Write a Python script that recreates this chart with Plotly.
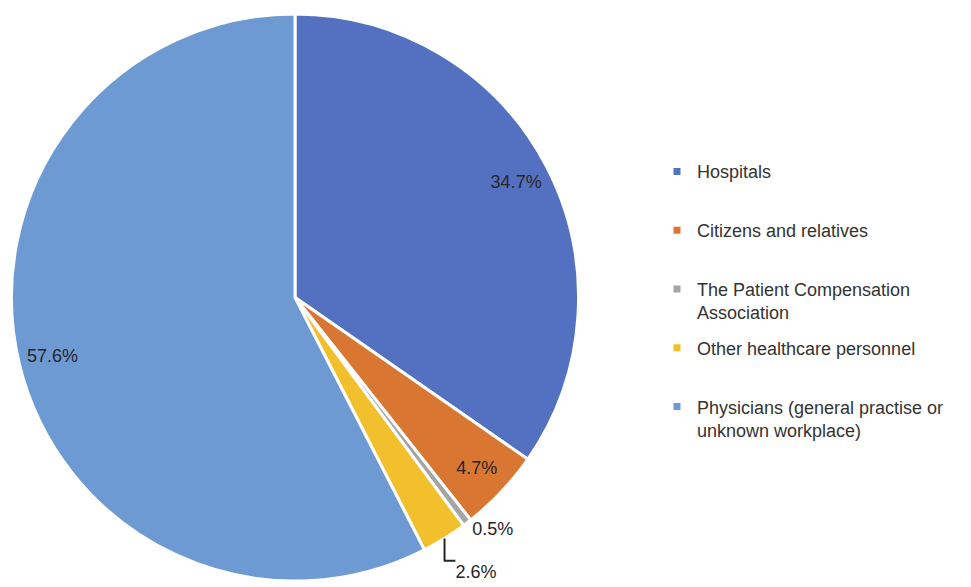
import plotly.graph_objects as go

# ---- data ----
categories = [
    "Hospitals",
    "Citizens and relatives",
    "The Patient Compensation Association",
    "Other healthcare personnel",
    "Physicians (general practise or unknown workplace)",
]
legend_labels = [
    "Hospitals",
    "Citizens and relatives",
    "The Patient Compensation<br>Association",
    "Other healthcare personnel",
    "Physicians (general practise or<br>unknown workplace)",
]
shares = [34.7, 4.7, 0.5, 2.6, 57.6]
colors = ["#5470C0", "#D97732", "#A5A5A5", "#F2C02D", "#6E9AD4"]
label_positions = ["inside", "inside", "outside", "outside", "inside"]
label_templates = ["%{value:.1f}%", "%{value:.1f}%", "%{value:.1f}%",
                   "&nbsp;<br>%{value:.1f}%", "%{value:.1f}%"]

W, H = 971, 587
FONT = "Liberation Sans, Arial, sans-serif"
TEXT_COLOR = "#262626"

dom_x = [10 / W, 580 / W]
dom_y = [1 - 584 / H, 1 - 14 / H]

fig = go.Figure()

# solid pie (slices + white separators)
fig.add_trace(go.Pie(
    labels=categories, values=shares, sort=False, direction="clockwise",
    rotation=0, marker=dict(colors=colors, line=dict(color="white", width=3)),
    textinfo="none", hoverinfo="label+value", showlegend=False,
    domain=dict(x=dom_x, y=dom_y),
))

# transparent ring carrying the data labels near the rim
fig.add_trace(go.Pie(
    labels=categories, values=shares, sort=False, direction="clockwise",
    rotation=0, hole=0.76,
    marker=dict(colors=["rgba(0,0,0,0)"] * len(shares), line=dict(width=0)),
    texttemplate=label_templates, textposition=label_positions,
    insidetextorientation="horizontal",
    textfont=dict(family=FONT, size=18, color=TEXT_COLOR),
    insidetextfont=dict(family=FONT, size=18, color=TEXT_COLOR),
    outsidetextfont=dict(family=FONT, size=18, color=TEXT_COLOR),
    hoverinfo="skip", showlegend=False,
    domain=dict(x=dom_x, y=dom_y),
))

# legend entries
for lab, col in zip(legend_labels, colors):
    name = lab if "<br>" in lab else lab + "<br> "
    fig.add_trace(go.Scatter(
        x=[None], y=[None], mode="markers", name=name, legendgroup=lab,
        marker=dict(symbol="square", size=7, color=col),
        hoverinfo="skip",
    ))

fig.update_layout(
    width=W, height=H,
    margin=dict(l=0, r=0, t=0, b=0),
    paper_bgcolor="white", plot_bgcolor="white",
    xaxis=dict(visible=False), yaxis=dict(visible=False),
    font=dict(family=FONT, color=TEXT_COLOR),
    legend=dict(
        x=657 / W, xanchor="left", y=1 - 154 / H, yanchor="top",
        font=dict(family=FONT, size=18, color="#333333"),
        valign="top", tracegroupgap=9, itemclick=False,
        bgcolor="rgba(0,0,0,0)",
    ),
)

fig.write_html(
    "out.html",
    config={"displayModeBar": False},
    post_script="document.body.style.margin='0px';",
)
